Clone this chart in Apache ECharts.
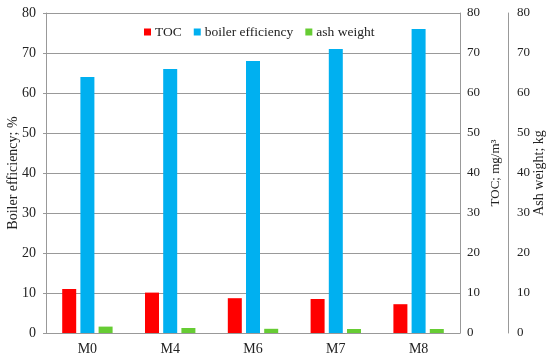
<!DOCTYPE html>
<html><head><meta charset="utf-8">
<script src="https://cdn.jsdelivr.net/npm/echarts@6/dist/echarts.min.js"></script>
<style>html,body{margin:0;padding:0;background:#fff}#c{width:550px;height:361px}</style>
</head><body><div id="c"></div>
<script>
var categories = ['M0','M4','M6','M7','M8'];
var tocValues = [11.0, 10.1, 8.7, 8.5, 7.2];
var boilerValues = [64, 66, 68, 71, 76];
var ashValues = [1.6, 1.25, 1.05, 1.0, 1.0];

var font = '"Liberation Serif", "Times New Roman", serif';
var chart = echarts.init(document.getElementById('c'));
var axisCommon = {
  type: 'value', min: 0, max: 80, interval: 10,
  nameTextStyle: {fontFamily: font, fontSize: 14, color: '#222'},
  nameLocation: 'middle', nameRotate: 90, nameMoveOverlap: false
};
chart.setOption({
  animation: false,
  textStyle: {fontFamily: font},
  grid: {left: 46, right: 90, top: 13, bottom: 28, containLabel: false, outerBoundsMode: 'none'},
  legend: {
    top: 20, left: 139, itemWidth: 7, itemHeight: 7, itemGap: 12,
    icon: 'rect',
    textStyle: {fontFamily: font, fontSize: 13.5, color: '#222', padding: [0,0,0,-1]},
    data: ['TOC','boiler efficiency','ash weight']
  },
  xAxis: {
    type: 'category', data: categories,
    axisLine: {lineStyle: {color: '#999', width: 1}},
    axisTick: {show: false},
    axisLabel: {fontFamily: font, fontSize: 14, color: '#222', margin: 9}
  },
  yAxis: [
    Object.assign({}, axisCommon, {
      position: 'left', name: 'Boiler efficiency; %', nameGap: 26,
      axisLine: {show: true, lineStyle: {color: '#999'}},
      axisTick: {show: true, length: 3, lineStyle: {color: '#999'}},
      axisLabel: {fontFamily: font, fontSize: 14, color: '#222', margin: 10},
      splitLine: {lineStyle: {color: '#999', width: 1}}
    }),
    Object.assign({}, axisCommon, {
      position: 'right', name: 'TOC; mg/m³', nameGap: 29,
      nameTextStyle: {fontFamily: font, fontSize: 13, color: '#222'},
      axisLine: {show: true, lineStyle: {color: '#999'}},
      axisTick: {show: false},
      axisLabel: {fontFamily: font, fontSize: 13, color: '#222', margin: 7},
      splitLine: {show: false}
    }),
    Object.assign({}, axisCommon, {
      position: 'right', offset: 48, name: 'Ash weight; kg', nameGap: 24,
      axisLine: {show: true, lineStyle: {color: '#999'}},
      axisTick: {show: false},
      axisLabel: {fontFamily: font, fontSize: 13, color: '#222', margin: 9},
      splitLine: {show: false}
    })
  ],
  series: [
    {name: 'TOC', type: 'bar', yAxisIndex: 1, data: tocValues, barWidth: 14, barGap: '30%',
     itemStyle: {color: '#FF0000'}},
    {name: 'boiler efficiency', type: 'bar', yAxisIndex: 0, data: boilerValues, barWidth: 14, barGap: '30%',
     itemStyle: {color: '#00B0F0'}},
    {name: 'ash weight', type: 'bar', yAxisIndex: 2, data: ashValues, barWidth: 14, barGap: '30%',
     itemStyle: {color: '#66CC33'}}
  ]
});
</script></body></html>
